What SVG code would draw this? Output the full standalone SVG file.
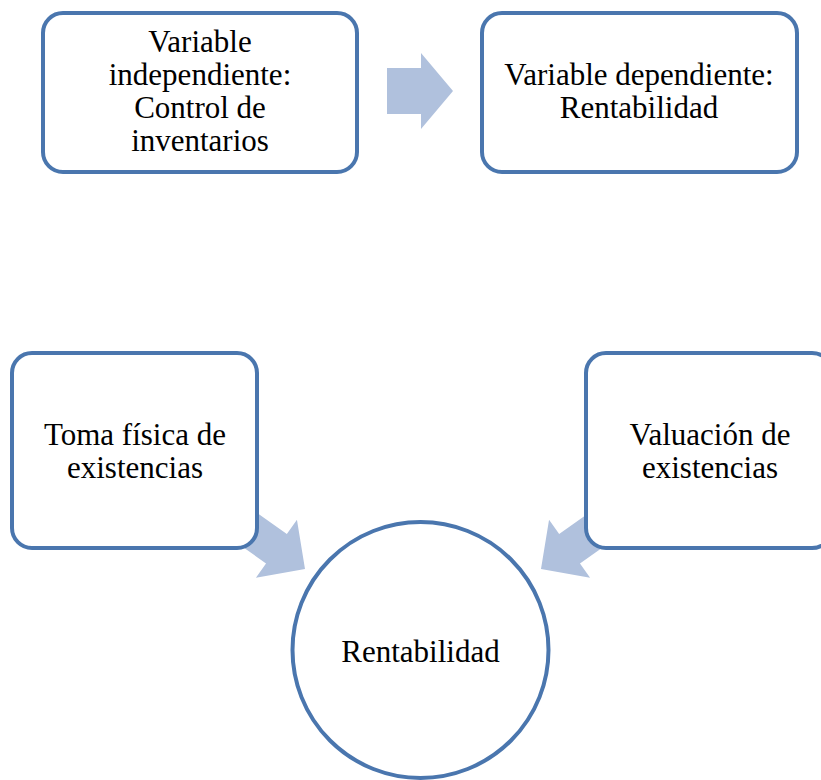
<svg xmlns="http://www.w3.org/2000/svg" width="821" height="780" viewBox="0 0 821 780">
<style>
.box{fill:#fff;stroke:#4A76AE;stroke-width:4}
.arrow{fill:#B0C1DD;stroke:none}
.t{font-family:"Liberation Serif","Times New Roman",serif;font-size:31px;fill:#000;text-anchor:middle}
</style>
<rect width="821" height="780" fill="#fff"/>
<g id="connectors">
<polygon class="arrow" points="387,68 421,68 421,53 453,91 421,129 421,114 387,114"/>
<polygon class="arrow" transform="translate(305,569) rotate(35.3)" points="-80,-18 -35,-18 -35,-35.5 0,0 -35,35.5 -35,18 -80,18"/>
<polygon class="arrow" transform="translate(541,569) rotate(144.7)" points="-80,-18 -35,-18 -35,-35.5 0,0 -35,35.5 -35,18 -80,18"/>
</g>
<g id="node-independiente">
<rect class="box" x="43" y="13" width="314" height="159" rx="20"/>
<text class="t" x="200" y="52">Variable</text>
<text class="t" x="200" y="85">independiente:</text>
<text class="t" x="200" y="118">Control de</text>
<text class="t" x="200" y="151">inventarios</text>
</g>
<g id="node-dependiente">
<rect class="box" x="482" y="13" width="315" height="159" rx="20"/>
<text class="t" x="639" y="85">Variable dependiente:</text>
<text class="t" x="639" y="118">Rentabilidad</text>
</g>
<g id="node-toma">
<rect class="box" x="12" y="353" width="245" height="195" rx="20"/>
<text class="t" x="135" y="445">Toma física de</text>
<text class="t" x="135" y="478">existencias</text>
</g>
<g id="node-valuacion">
<rect class="box" x="586" y="353" width="246" height="195" rx="20"/>
<text class="t" x="710" y="445">Valuación de</text>
<text class="t" x="710" y="478">existencias</text>
</g>
<g id="node-rentabilidad">
<circle class="box" cx="420.5" cy="650" r="128"/>
<text class="t" x="420.5" y="662">Rentabilidad</text>
</g>
</svg>
